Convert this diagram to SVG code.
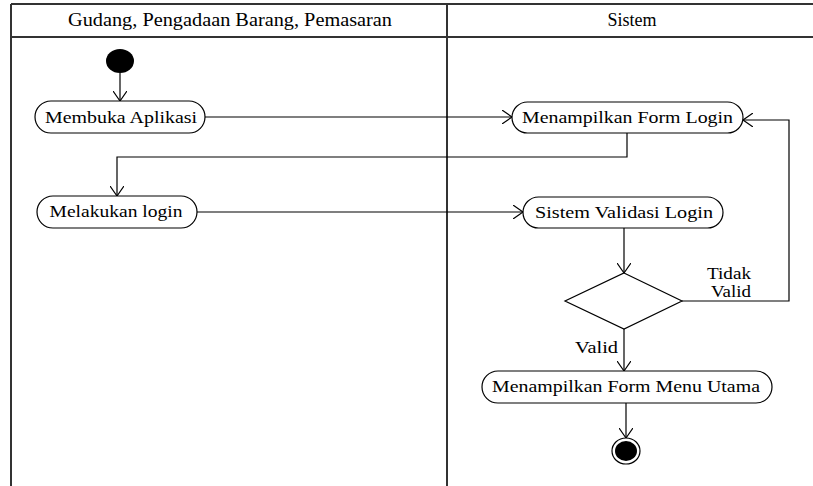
<svg xmlns="http://www.w3.org/2000/svg" width="813" height="486" viewBox="0 0 813 486">
<defs>
<style>
.frame{stroke:#333;stroke-width:2;fill:none}
.node{fill:#fff;stroke:#000;stroke-width:1.2}
.conn{fill:none;stroke:#000;stroke-width:1.2}
text{font-family:"Liberation Serif","Times New Roman",serif;fill:#000}
.lbl{font-size:17px;text-anchor:middle}
.hdr{font-size:18px;text-anchor:middle}
.guard{font-size:17px}
</style>
<marker id="arr" markerWidth="12" markerHeight="14" refX="10" refY="7" orient="auto" markerUnits="userSpaceOnUse">
<path d="M0,0 L10,7 L0,14" fill="none" stroke="#000" stroke-width="1.2"/>
</marker>
</defs>
<rect width="813" height="486" fill="#fff"/>
<g id="swimlanes">
<line class="frame" x1="11" y1="4" x2="813" y2="4"/>
<line class="frame" x1="11" y1="4" x2="11" y2="486"/>
<line class="frame" x1="447" y1="4" x2="447" y2="486"/>
<line class="frame" x1="11" y1="37" x2="813" y2="37"/>
<text class="hdr" x="230" y="26" textLength="324" lengthAdjust="spacingAndGlyphs">Gudang, Pengadaan Barang, Pemasaran</text>
<text class="hdr" x="632" y="26">Sistem</text>
</g>
<g id="connectors">
<line class="conn" x1="120" y1="73" x2="120" y2="101" marker-end="url(#arr)"/>
<line class="conn" x1="205" y1="117" x2="512" y2="117" marker-end="url(#arr)"/>
<polyline class="conn" points="627,133 627,157 117,157 117,196" marker-end="url(#arr)"/>
<line class="conn" x1="197" y1="212" x2="523" y2="212" marker-end="url(#arr)"/>
<line class="conn" x1="624" y1="228" x2="624" y2="273" marker-end="url(#arr)"/>
<polyline class="conn" points="682,301 789,301 789,120 743,120" marker-end="url(#arr)"/>
<line class="conn" x1="624" y1="329" x2="624" y2="371" marker-end="url(#arr)"/>
<line class="conn" x1="626" y1="403" x2="626" y2="438" marker-end="url(#arr)"/>
<text class="guard" x="707" y="279" textLength="44" lengthAdjust="spacingAndGlyphs">Tidak</text>
<text class="guard" x="711" y="297" textLength="40" lengthAdjust="spacingAndGlyphs">Valid</text>
<text class="guard" x="575" y="353" textLength="43" lengthAdjust="spacingAndGlyphs">Valid</text>
</g>
<g id="start">
<ellipse cx="120" cy="61" rx="14" ry="12" fill="#000"/>
</g>
<g id="membuka-aplikasi">
<rect class="node" x="35" y="101" width="170" height="32" rx="16"/>
<text class="lbl" x="121" y="123" textLength="152" lengthAdjust="spacingAndGlyphs">Membuka Aplikasi</text>
</g>
<g id="menampilkan-form-login">
<rect class="node" x="512" y="102" width="231" height="31" rx="15.5"/>
<text class="lbl" x="627.5" y="123" textLength="211" lengthAdjust="spacingAndGlyphs">Menampilkan Form Login</text>
</g>
<g id="melakukan-login">
<rect class="node" x="37" y="196" width="160" height="32" rx="16"/>
<text class="lbl" x="116" y="217" textLength="133" lengthAdjust="spacingAndGlyphs">Melakukan login</text>
</g>
<g id="sistem-validasi-login">
<rect class="node" x="523" y="197" width="200" height="31" rx="15.5"/>
<text class="lbl" x="624" y="218" textLength="178" lengthAdjust="spacingAndGlyphs">Sistem Validasi Login</text>
</g>
<g id="decision">
<polygon class="node" points="624,273 682,301 624,329 565,301"/>
</g>
<g id="menampilkan-form-menu-utama">
<rect class="node" x="482" y="371" width="290" height="32" rx="16"/>
<text class="lbl" x="626" y="392" textLength="268" lengthAdjust="spacingAndGlyphs">Menampilkan Form Menu Utama</text>
</g>
<g id="end">
<ellipse cx="626" cy="451" rx="14" ry="13" fill="#fff" stroke="#000" stroke-width="1.2"/>
<ellipse cx="626" cy="451" rx="11" ry="10" fill="#000"/>
</g>
</svg>
